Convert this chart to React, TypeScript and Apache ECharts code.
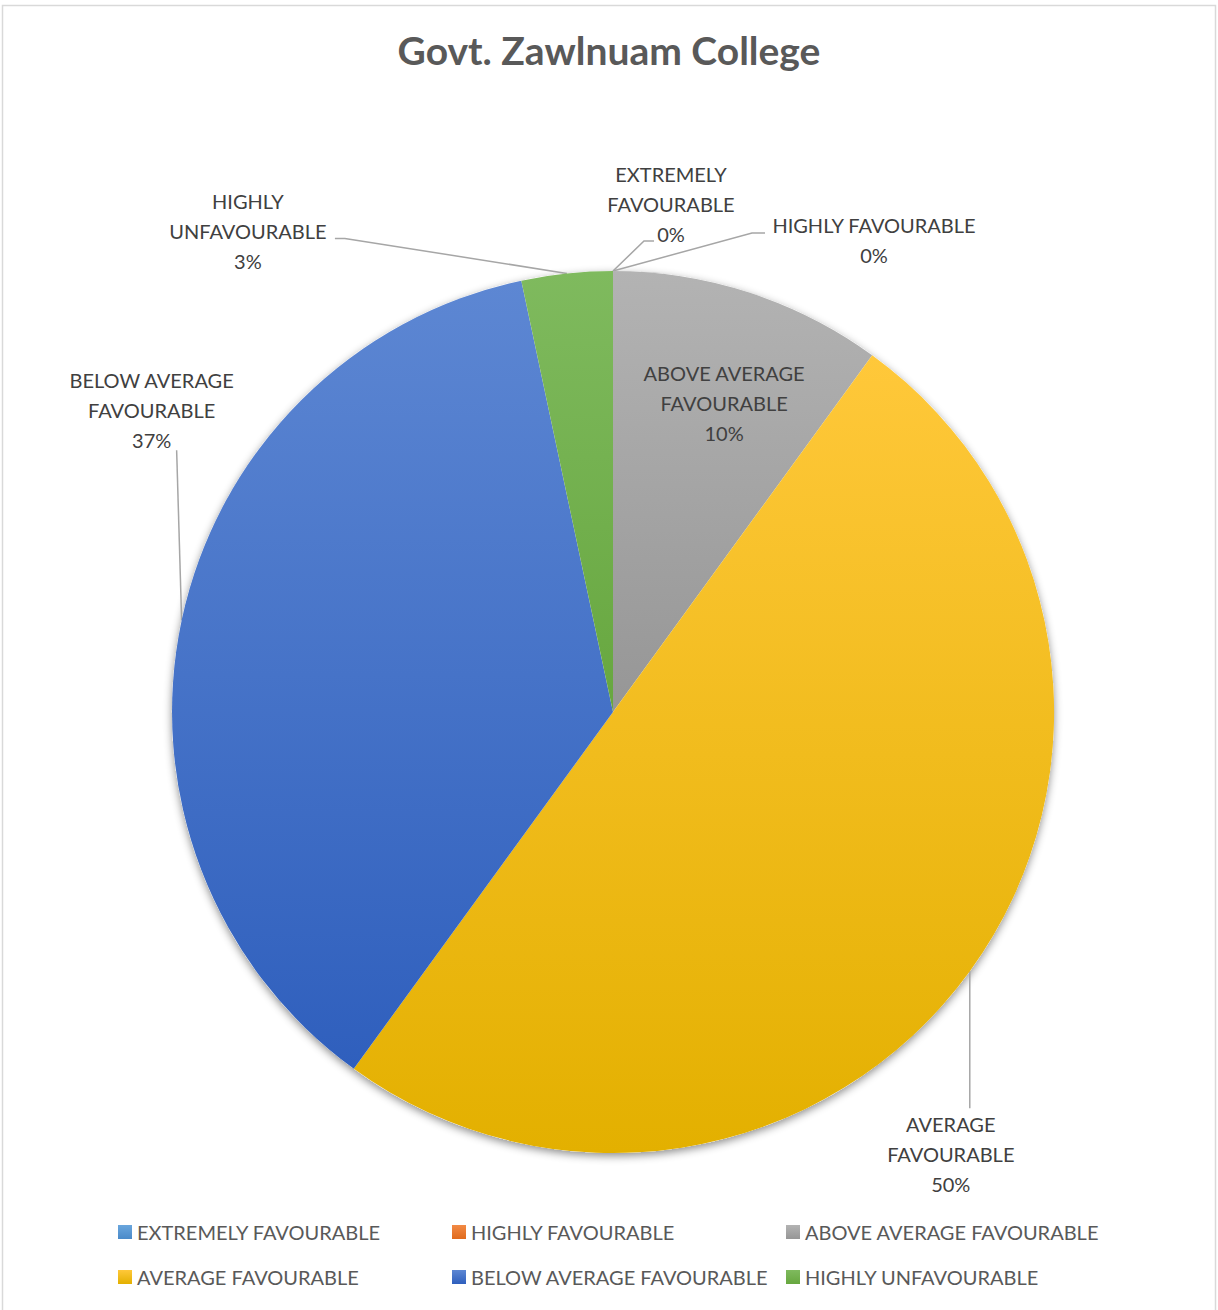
import React, { useEffect, useRef } from "react";
import * as echarts from "echarts";

// Survey responses for the college, one count per category
const categories = [
  "EXTREMELY FAVOURABLE",
  "HIGHLY FAVOURABLE",
  "ABOVE AVERAGE FAVOURABLE",
  "AVERAGE FAVOURABLE",
  "BELOW AVERAGE FAVOURABLE",
  "HIGHLY UNFAVOURABLE",
];
const counts = [0, 0, 3, 15, 11, 1];

// Wrapped names used in the slice labels
const labelNames = [
  "EXTREMELY\nFAVOURABLE",
  "HIGHLY FAVOURABLE",
  "ABOVE AVERAGE\nFAVOURABLE",
  "AVERAGE\nFAVOURABLE",
  "BELOW AVERAGE\nFAVOURABLE",
  "HIGHLY\nUNFAVOURABLE",
];

// Gradient stops (top, bottom) per category
const topColors = ["#6aa6dd", "#f28a45", "#b3b3b3", "#ffc83a", "#5d87d3", "#7fba5e"];
const bottomColors = ["#4a8ac9", "#e06a1c", "#969696", "#e3b000", "#2f5fbd", "#67a73f"];

const TITLE = "Govt. Zawlnuam College";
const FONT = "Lato, 'Open Sans', sans-serif";

// Label placement relative to the slice's leader-line anchor (outside labels)
// or to the default inside position; line: bend points relative to the anchor.
type Placement = { dx: number; dy: number; line?: number[][]; inside?: boolean };
const placements: Placement[] = [
  { dx: 58, dy: -67, line: [[31, -30], [41, -30]] },
  { dx: 261, dy: -31, line: [[139, -38], [152, -38]] },
  { dx: 42, dy: -96, inside: true },
  { dx: -19, dy: 183, line: [[0, 137]] },
  { dx: -30, dy: -210, line: [[-5, -170]] },
  { dx: -319, dy: -42, line: [[-222, -35], [-232, -35]] },
];

const gradient = (i: number) =>
  new echarts.graphic.LinearGradient(0, 0, 0, 1, [
    { offset: 0, color: topColors[i] },
    { offset: 1, color: bottomColors[i] },
  ]);

export default function App() {
  const ref = useRef<HTMLDivElement>(null);

  useEffect(() => {
    if (!ref.current) return;
    const chart = echarts.init(ref.current, undefined, { renderer: "svg" });

    const center = [613, 712];
    const radius = 441;

    const data = categories.map((name, i) => {
      const p = placements[i];
      return {
        name,
        value: counts[i],
        itemStyle: { color: gradient(i) },
        label: p.inside ? { position: "inside" } : { position: "outside" },
        labelLine: { show: !p.inside },
      };
    });

    const legendBase = {
      orient: "vertical",
      top: 1217,
      itemWidth: 14,
      itemHeight: 14,
      itemGap: 25,
      icon: "rect",
      selectedMode: false,
      textStyle: { fontSize: 20, color: "#595959", fontFamily: FONT },
    };

    chart.setOption({
      animation: false,
      backgroundColor: "#ffffff",
      title: {
        text: TITLE,
        left: "center",
        top: 25,
        textStyle: { fontSize: 39, fontWeight: "bold", color: "#595959", fontFamily: FONT },
      },
      legend: [
        { ...legendBase, left: 113, data: [categories[0], categories[3]] },
        { ...legendBase, left: 447, data: [categories[1], categories[4]] },
        { ...legendBase, left: 781, data: [categories[2], categories[5]] },
      ],
      graphic: [
        {
          type: "rect",
          shape: { x: 2.5, y: 5.5, width: 1213, height: 1330 },
          style: { fill: "none", stroke: "#d9d9d9", lineWidth: 1.5 },
          silent: true,
        },
      ],
      series: [
        {
          // soft drop shadow beneath the pie
          type: "pie",
          silent: true,
          center,
          radius,
          z: 1,
          label: { show: false },
          labelLine: { show: false },
          emphasis: { disabled: true },
          itemStyle: {
            color: "#ffffff",
            shadowBlur: 9,
            shadowOffsetY: 3,
            shadowColor: "rgba(0,0,0,0.45)",
          },
          data: [{ value: 1, name: "__shadow" }],
        },
        {
          type: "pie",
          z: 2,
          center,
          radius,
          startAngle: 90,
          clockwise: true,
          avoidLabelOverlap: false,
          percentPrecision: 0,
          emphasis: { disabled: true },
          label: {
            show: true,
            fontFamily: FONT,
            fontSize: 20,
            lineHeight: 30,
            color: "#404040",
            align: "center",
            formatter: (p: any) => `${labelNames[p.dataIndex]}\n${p.percent}%`,
          },
          labelLine: {
            show: true,
            lineStyle: { color: "#a6a6a6", width: 1.5 },
          },
          labelLayout: (params: any) => {
            const p = placements[params.dataIndex];
            const lr = params.labelRect;
            const pts = params.labelLinePoints;
            let ax: number;
            let ay: number;
            if (!p.inside && pts && pts.length) {
              ax = pts[0][0];
              ay = pts[0][1];
            } else {
              ax = lr.x + lr.width / 2;
              ay = lr.y + lr.height / 2;
            }
            const out: any = {
              x: ax + p.dx,
              y: ay + p.dy,
              align: "center",
              verticalAlign: "middle",
            };
            if (p.line && pts && pts.length) {
              out.labelLinePoints = [[ax, ay], ...p.line.map(([x, y]) => [ax + x, ay + y])];
            }
            return out;
          },
          data,
        },
      ],
    });

    return () => chart.dispose();
  }, []);

  return (
    <div
      ref={ref}
      style={{ position: "absolute", left: 0, top: 0, width: 1218, height: 1310 }}
    />
  );
}
